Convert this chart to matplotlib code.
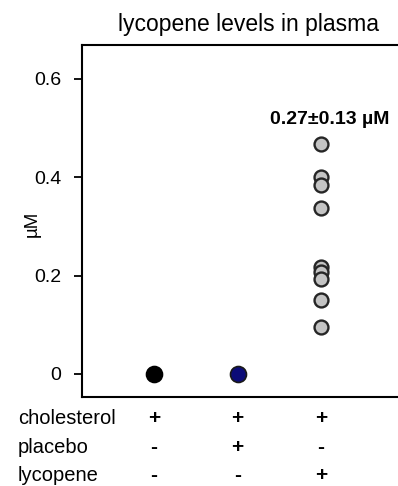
import numpy as np
import matplotlib
matplotlib.use("Agg")
import matplotlib.pyplot as plt
from matplotlib.ticker import FuncFormatter

# data
groups = [1, 2, 3]
cholesterol_only = [0.0]
placebo = [0.0]
lycopene = [0.468, 0.401, 0.384, 0.338, 0.218, 0.208, 0.193, 0.150, 0.096]
annotation = "0.27\u00b10.13 \u00b5M"
row_labels = ["cholesterol", "placebo", "lycopene"]
row_signs = [["+", "+", "+"], ["-", "+", "-"], ["-", "-", "+"]]
yticks = [0, 0.2, 0.4, 0.6]

plt.rcParams["font.family"] = ["Liberation Sans", "DejaVu Sans"]

fig = plt.figure(figsize=(3.98, 4.86), dpi=100)
ax = fig.add_axes([0.206, 0.183, 0.80, 0.724])

ax.plot([groups[0]] * len(cholesterol_only), cholesterol_only, "o", ms=11.5,
        mfc="black", mec="black", mew=1.2, clip_on=False)
ax.plot([groups[1]] * len(placebo), placebo, "o", ms=11.5,
        mfc="#0c0c78", mec="#1a1a1a", mew=1.2, clip_on=False)
ax.plot([groups[2]] * len(lycopene), lycopene, "o", ms=10,
        mfc="#c4c4c4", mec="#262626", mew=1.7, clip_on=False)

ax.text(groups[2] + 0.1, 0.516, annotation, ha="center", va="center",
        fontsize=14, fontweight="bold")

ax.set_xlim(0.138, 3.95)
ax.set_ylim(-0.047, 0.668)
ax.set_xticks([])
ax.set_yticks(yticks)
ax.yaxis.set_major_formatter(FuncFormatter(lambda v, _: "0" if v == 0 else f"{v:.1f}"))
ax.tick_params(axis="y", direction="out", length=6, width=1.3, labelsize=14, pad=9)
for side in ["left", "bottom", "top"]:
    ax.spines[side].set_linewidth(1.5)
ax.spines["right"].set_visible(False)

fig.text(32 / 398, 1 - 224 / 486, "\u00b5M", rotation=90, ha="center",
         va="center", fontsize=13.5)
fig.text(249 / 398, 1 - 24 / 486, "lycopene levels in plasma", ha="center",
         va="center", fontsize=16.5)

# treatment table below the axis
row_y = [418, 447, 475]
trans = ax.get_xaxis_transform()
for label, signs, py in zip(row_labels, row_signs, row_y):
    yfig = 1 - py / 486
    fig.text(18 / 398, yfig, label, ha="left", va="center", fontsize=14.5)
    for gx, s in zip(groups, signs):
        yax = (397 - py) / 352
        ax.text(gx, yax, s, transform=trans, ha="center", va="center",
                fontsize=15, fontweight="bold", clip_on=False)

fig.savefig("out.png", dpi=100)
